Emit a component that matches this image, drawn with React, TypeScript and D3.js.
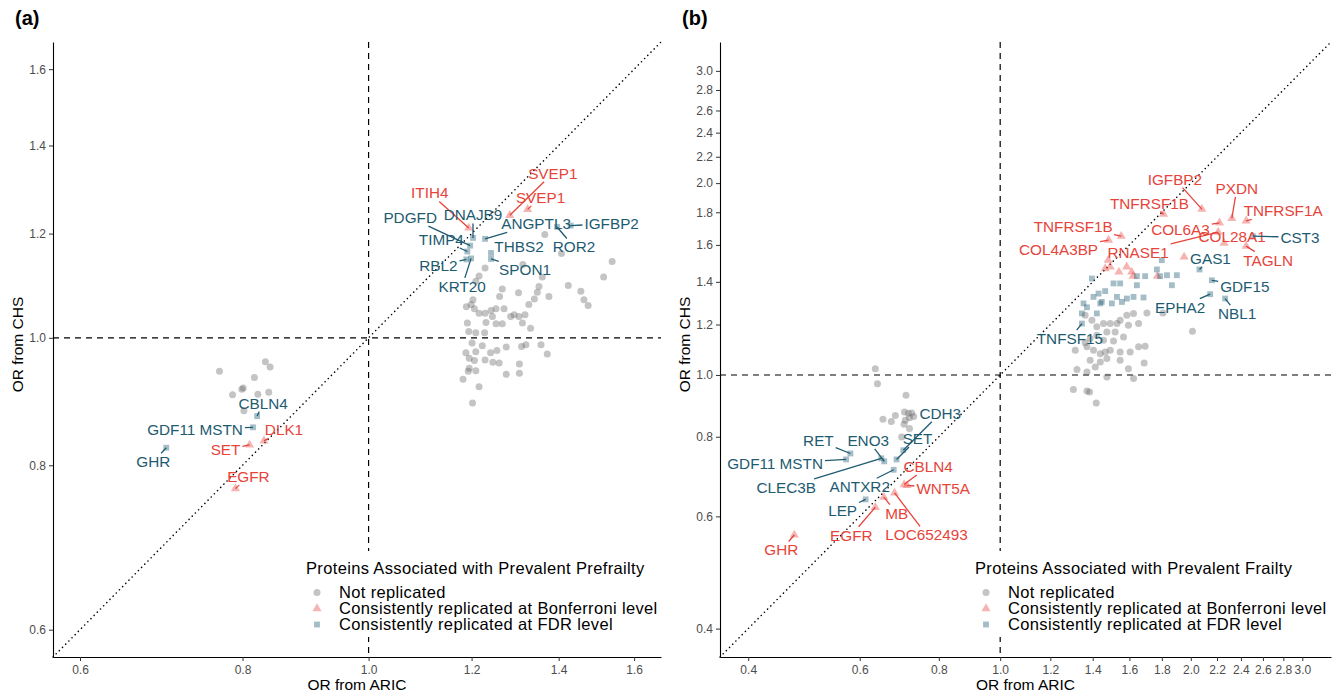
import React, { useEffect, useRef } from "react"
import * as d3 from "d3"

const FONT = "'Liberation Sans', Arial, Helvetica, sans-serif"
const RED = "#E6443B"
const TEAL = "#1E5B71"
const GREY = "#6b6b6b"

// ---------- panel (a): prevalent prefrailty ----------
const ticksA = [0.6, 0.8, 1.0, 1.2, 1.4, 1.6]

// [OR ARIC, OR CHS]
const notReplicatedA: [number, number][] = [
  [1.366, 1.198], [1.407, 1.159], [1.539, 1.143], [1.516, 1.112], [1.424, 1.096], [1.456, 1.085],
  [1.464, 1.069], [1.475, 1.058], [1.229, 1.13], [1.314, 1.137], [1.36, 1.112], [1.352, 1.094],
  [1.376, 1.075], [1.348, 1.083], [1.341, 1.07], [1.328, 1.06], [1.304, 1.082], [1.267, 1.089],
  [1.261, 1.075], [1.216, 1.114], [1.209, 1.104], [1.203, 1.069], [1.199, 1.06], [1.189, 1.056],
  [1.206, 1.052], [1.216, 1.044], [1.229, 1.044], [1.242, 1.049], [1.253, 1.052], [1.271, 1.052],
  [1.231, 1.027], [1.245, 1.038], [1.191, 1.026], [1.253, 1.025], [1.267, 1.025], [1.286, 1.038],
  [1.294, 1.041], [1.305, 1.038], [1.319, 1.041], [1.313, 1.026], [1.332, 1.017], [1.194, 1.011],
  [1.209, 1.009], [1.228, 1.009], [1.201, 0.991], [1.223, 0.986], [1.188, 0.974], [1.209, 0.976],
  [1.241, 0.974], [1.255, 0.978], [1.276, 0.984], [1.321, 0.988], [1.357, 0.988], [1.311, 0.985],
  [1.195, 0.965], [1.206, 0.961], [1.229, 0.962], [1.246, 0.958], [1.26, 0.957], [1.306, 0.955],
  [1.372, 0.972], [1.195, 0.948], [1.193, 0.943], [1.209, 0.944], [1.276, 0.938], [1.306, 0.94],
  [1.182, 0.93], [1.216, 0.918], [1.202, 0.892],
  [0.768, 0.943], [0.817, 0.933], [0.833, 0.959], [0.84, 0.95], [0.786, 0.905], [0.799, 0.914],
  [0.801, 0.916], [0.822, 0.906], [0.838, 0.909], [0.802, 0.88],
]

// [protein, OR ARIC, OR CHS]
const bonferroniA: [string, number, number][] = [
  ["ITIH4", 1.194, 1.212],
  ["SVEP1", 1.284, 1.239],
  ["SVEP1", 1.325, 1.252],
  ["DLK1", 0.831, 0.835],
  ["SET", 0.81, 0.829],
  ["EGFR", 0.79, 0.768],
]

const fdrA: [string, number, number][] = [
  ["PDGFD", 1.197, 1.175],
  ["DNAJB9", 1.203, 1.191],
  ["ANGPTL3", 1.229, 1.189],
  ["IGFBP2", 1.43, 1.217],
  ["ROR2", 1.396, 1.214],
  ["TIMP4", 1.191, 1.163],
  ["THBS2", 1.242, 1.16],
  ["RBL2", 1.189, 1.147],
  ["SPON1", 1.242, 1.148],
  ["KRT20", 1.199, 1.149],
  ["CBLN4", 0.821, 0.872],
  ["GDF11 MSTN", 0.815, 0.855],
  ["GHR", 0.699, 0.825],
]

// ---------- panel (b): prevalent frailty ----------
const ticksB = [0.4, 0.6, 0.8, 1.0, 1.2, 1.4, 1.6, 1.8, 2.0, 2.2, 2.4, 2.6, 2.8, 3.0]

const notReplicatedB: [number, number][] = [
  [2.012, 1.171], [1.705, 1.251], [1.807, 1.251], [1.624, 1.249], [1.585, 1.241], [1.547, 1.219],
  [1.529, 1.204], [1.594, 1.197], [1.654, 1.204], [1.492, 1.204], [1.456, 1.204], [1.421, 1.19],
  [1.396, 1.219], [1.474, 1.168], [1.519, 1.168], [1.566, 1.147], [1.421, 1.154], [1.387, 1.141],
  [1.362, 1.123], [1.314, 1.093], [1.371, 1.107], [1.404, 1.093], [1.439, 1.08], [1.465, 1.087],
  [1.492, 1.093], [1.547, 1.087], [1.604, 1.087], [1.654, 1.107], [1.694, 1.109], [1.387, 1.055],
  [1.439, 1.048], [1.474, 1.061], [1.547, 1.055], [1.594, 1.023], [1.688, 1.044], [1.322, 1.02],
  [1.371, 1.011], [1.413, 1.029], [1.474, 0.993], [1.624, 0.987], [1.305, 0.949], [1.371, 0.944],
  [1.384, 0.94], [1.418, 0.904], [1.456, 1.134], [1.51, 1.131], [1.362, 1.241],
  [0.635, 1.023], [0.64, 0.969], [0.71, 0.929], [0.653, 0.852], [0.673, 0.845], [0.683, 0.864],
  [0.706, 0.875], [0.716, 0.871], [0.725, 0.872], [0.708, 0.849], [0.719, 0.857], [0.73, 0.861],
  [0.719, 0.824], [0.699, 0.799], [0.705, 0.837],
]

const bonferroniB: [string, number, number][] = [
  ["IGFBP2", 2.082, 1.821],
  ["TNFRSF1B", 1.811, 1.788],
  ["COL6A3", 2.22, 1.733],
  ["PXDN", 2.322, 1.761],
  ["TNFRSF1A", 2.446, 1.745],
  ["TNFRSF1B", 1.553, 1.651],
  ["COL4A3BP", 1.483, 1.628],
  ["COL28A1", 2.258, 1.61],
  ["TAGLN", 2.446, 1.593],
  ["RNASE1", 2.209, 1.676],
  ["", 1.952, 1.532],
  ["", 1.481, 1.514],
  ["", 1.492, 1.478],
  ["", 1.54, 1.451],
  ["", 1.584, 1.478],
  ["", 1.613, 1.451],
  ["", 1.621, 1.429],
  ["", 1.771, 1.429],
  ["", 1.465, 1.469],
  ["CBLN4", 0.705, 0.673],
  ["WNT5A", 0.713, 0.671],
  ["MB", 0.655, 0.643],
  ["LOC652493", 0.681, 0.653],
  ["EGFR", 0.635, 0.62],
  ["GHR", 0.473, 0.561],
]

const fdrB: [string, number, number][] = [
  ["GAS1", 2.064, 1.464],
  ["GDF15", 2.159, 1.408],
  ["EPHA2", 2.146, 1.339],
  ["NBL1", 2.266, 1.318],
  ["CST3", 2.507, 1.651],
  ["TNFSF15", 1.346, 1.204],
  ["GDF11 MSTN", 0.571, 0.737],
  ["RET", 0.58, 0.753],
  ["ENO3", 0.656, 0.732],
  ["CLEC3B", 0.649, 0.74],
  ["SET", 0.686, 0.737],
  ["CDH3", 0.703, 0.762],
  ["ANTXR2", 0.679, 0.71],
  ["LEP", 0.613, 0.638],
  ["", 1.8, 1.514], ["", 1.768, 1.464], ["", 1.644, 1.429], ["", 1.694, 1.429], ["", 1.789, 1.429],
  ["", 1.834, 1.434], ["", 1.901, 1.434], ["", 1.867, 1.383], ["", 1.396, 1.417], ["", 1.51, 1.392],
  ["", 1.547, 1.392], ["", 1.644, 1.383], ["", 1.43, 1.342], ["", 1.404, 1.326], ["", 1.529, 1.326],
  ["", 1.585, 1.318], ["", 1.624, 1.326], ["", 1.684, 1.323], ["", 1.447, 1.302], ["", 1.439, 1.295],
  ["", 1.501, 1.295], ["", 1.557, 1.302], ["", 1.354, 1.295], ["", 1.346, 1.249], ["", 1.421, 1.249],
  ["", 1.371, 1.277], ["", 1.465, 1.354],
]

// repelled label placement: pixel offset of label centre from its point (same order as above)
type Nudge = [number, number] | null
const bonferroniA_nudge: Nudge[] = [[-39, -35], [43, -42], [13, -12], [20, -11], [-24, 5], [13, -12]]
const fdrA_nudge: Nudge[] = [
  [-60, -28], [0, -23], [51, -15], [41, -2], [17, 20], [-26, -12], [28, -6], [-28, 6], [34, 11],
  [-9, 28], [6, -13], [-58, 2], [-13, 14],
]
const bonferroniB_nudge: Nudge[] = [
  [-27, -30], [-14, -11], [-39, 7], [5, -30], [37, -10], [-48, -10], [-50, 9], [8, -7], [22, 14],
  [-80, 20], null, null, null, null, null, null, null, null, null,
  [24, -18], [36, 3], [13, 16], [32, 42], [-24, 28], [-13, 15],
]
const fdrB_nudge: Nudge[] = [
  [11, -11], [33, 6], [-30, 13], [12, 15], [47, 1], [-12, 15], [-71, 4], [-32, -13], [-16, -21],
  [-95, 29], [21, -21], [37, -37], [-34, 17], [-23, 11],
]

const legendItems = ["Not replicated", "Consistently replicated at Bonferroni level", "Consistently replicated at FDR level"]

let measureCtx: CanvasRenderingContext2D | null = null
function textWidth(s: string, size: number) {
  if (!measureCtx && typeof document !== "undefined") measureCtx = document.createElement("canvas").getContext("2d")
  if (!measureCtx) return s.length * size * 0.6
  measureCtx.font = `${size}px ${FONT}`
  return measureCtx.measureText(s).width
}

const triPath = d3.symbol().type(d3.symbolTriangle).size(36)()
const sqPath = d3.symbol().type(d3.symbolSquare).size(34)()

interface PanelProps {
  tag: string
  legendTitle: string
  domain: [number, number]
  ticks: number[]
  left: number
  right: number
  top: number
  bottom: number
  legendX: number
  grey: [number, number][]
  bonf: [string, number, number][]
  fdr: [string, number, number][]
  bonfNudge: Nudge[]
  fdrNudge: Nudge[]
}

const Panel: React.FC<PanelProps> = (p) => {
  const xAxisRef = useRef<SVGGElement>(null)
  const yAxisRef = useRef<SVGGElement>(null)

  const x = d3.scaleLog().domain(p.domain).range([p.left, p.right])
  const y = d3.scaleLog().domain(p.domain).range([p.bottom, p.top])

  useEffect(() => {
    const fmt = d3.format(".1f")
    const style = (g: any) => {
      g.attr("font-family", FONT).attr("font-size", 12)
      g.select(".domain").attr("stroke", "#000").attr("stroke-width", 1.1)
      g.selectAll(".tick line").attr("stroke", "#333").attr("stroke-width", 1)
      g.selectAll(".tick text").attr("fill", "#4d4d4d")
    }
    const gx = d3.select(xAxisRef.current)
    gx.call(d3.axisBottom(x).tickValues(p.ticks).tickFormat(fmt as any).tickSizeInner(4).tickSizeOuter(0).tickPadding(4) as any)
    style(gx)
    const gy = d3.select(yAxisRef.current)
    gy.call(d3.axisLeft(y).tickValues(p.ticks).tickFormat(fmt as any).tickSizeInner(4).tickSizeOuter(0).tickPadding(3) as any)
    style(gy)
  }, [])

  const labels: { name: string; px: number; py: number; nudge: [number, number]; color: string }[] = []
  p.bonf.forEach((d, i) => {
    const n = p.bonfNudge[i]
    if (d[0] && n) labels.push({ name: d[0], px: x(d[1]), py: y(d[2]), nudge: n, color: RED })
  })
  p.fdr.forEach((d, i) => {
    const n = p.fdrNudge[i]
    if (d[0] && n) labels.push({ name: d[0], px: x(d[1]), py: y(d[2]), nudge: n, color: TEAL })
  })

  const labelSize = 15.3
  const legendSize = 16.5
  const midY = (p.top + p.bottom) / 2 - 5

  return (
    <g>
      {/* reference lines */}
      <line x1={x(1)} x2={x(1)} y1={p.top} y2={p.bottom} stroke="#000" strokeWidth={1.2} strokeDasharray="6,5" />
      <line x1={p.left} x2={p.right} y1={y(1)} y2={y(1)} stroke="#000" strokeWidth={1.2} strokeDasharray="6,5" />
      <line x1={x(p.domain[0])} y1={y(p.domain[0])} x2={x(p.domain[1])} y2={y(p.domain[1])}
        stroke="#000" strokeWidth={1.5} strokeDasharray="0.1,4.4" strokeLinecap="round" />

      {/* points */}
      {p.grey.map((d, i) => (
        <circle key={"g" + i} cx={x(d[0])} cy={y(d[1])} r={3.5} fill={GREY} fillOpacity={0.4} />
      ))}
      {p.bonf.map((d, i) => (
        <path key={"b" + i} d={triPath} transform={`translate(${x(d[1])},${y(d[2])})`} fill={RED} fillOpacity={0.4} />
      ))}
      {p.fdr.map((d, i) => (
        <path key={"f" + i} d={sqPath} transform={`translate(${x(d[1])},${y(d[2])})`} fill={TEAL} fillOpacity={0.4} />
      ))}

      {/* repelled labels */}
      {labels.map((l, i) => {
        const cx = l.px + l.nudge[0]
        const cy = l.py + l.nudge[1]
        const hw = textWidth(l.name, labelSize) / 2 + 2
        const hh = 8.5
        const dx = l.px - cx
        const dy = l.py - cy
        let seg = null
        if (Math.abs(dx) > hw || Math.abs(dy) > hh) {
          const t = Math.min(dx !== 0 ? hw / Math.abs(dx) : Infinity, dy !== 0 ? hh / Math.abs(dy) : Infinity)
          const sx = cx + t * dx
          const sy = cy + t * dy
          if (Math.hypot(l.px - sx, l.py - sy) > 3)
            seg = <line x1={sx} y1={sy} x2={l.px} y2={l.py} stroke={l.color} strokeWidth={1.3} />
        }
        return (
          <g key={"l" + i}>
            {seg}
            <text x={cx} y={cy} dy="0.36em" textAnchor="middle" fill={l.color} fontSize={labelSize} fontFamily={FONT}>
              {l.name}
            </text>
          </g>
        )
      })}

      {/* axes */}
      <g ref={xAxisRef} transform={`translate(0,${p.bottom})`} />
      <g ref={yAxisRef} transform={`translate(${p.left},0)`} />

      {/* legend */}
      <rect x={p.legendX - 6} y={551} width={p.right - p.legendX + 4} height={86} fill="#fff" />
      <text x={p.legendX} y={574} fontSize={legendSize} letterSpacing={0.35} fontFamily={FONT} fill="#000">{p.legendTitle}</text>
      {legendItems.map((t, i) => {
        const ly = 592.5 + i * 16
        const kx = p.legendX + 11
        return (
          <g key={"lg" + i}>
            {i === 0 && <circle cx={kx} cy={ly} r={3.5} fill={GREY} fillOpacity={0.4} />}
            {i === 1 && <path d={triPath} transform={`translate(${kx},${ly})`} fill={RED} fillOpacity={0.4} />}
            {i === 2 && <path d={sqPath} transform={`translate(${kx},${ly})`} fill={TEAL} fillOpacity={0.4} />}
            <text x={p.legendX + 33} y={ly} dy="0.36em" fontSize={legendSize} letterSpacing={0.35} fontFamily={FONT} fill="#000">{t}</text>
          </g>
        )
      })}

      {/* titles */}
      <text x={(p.left + p.right) / 2} y={690} textAnchor="middle" fontSize={15.5} fontFamily={FONT} fill="#000">OR from ARIC</text>
      <text transform={`translate(${p.left - 30},${midY}) rotate(-90)`} textAnchor="middle" fontSize={15.5} fontFamily={FONT} fill="#000">OR from CHS</text>
      <text x={p.left - 38} y={25} fontSize={20} fontWeight="bold" fontFamily={FONT} fill="#000">{p.tag}</text>
    </g>
  )
}

export default function App() {
  useEffect(() => {
    document.body.style.margin = "0"
  }, [])

  return (
    <svg width={1336} height={696} style={{ position: "fixed", left: 0, top: 0, background: "#fff" }}>
      <rect x={0} y={0} width={1336} height={696} fill="#fff" />
      <Panel
        tag="(a)"
        legendTitle="Proteins Associated with Prevalent Prefrailty"
        domain={[0.572, 1.678]}
        ticks={ticksA}
        left={53}
        right={661}
        top={42}
        bottom={657}
        legendX={306}
        grey={notReplicatedA}
        bonf={bonferroniA}
        fdr={fdrA}
        bonfNudge={bonferroniA_nudge}
        fdrNudge={fdrA_nudge}
      />
      <Panel
        tag="(b)"
        legendTitle="Proteins Associated with Prevalent Frailty"
        domain={[0.361, 3.33]}
        ticks={ticksB}
        left={720}
        right={1331}
        top={42}
        bottom={657}
        legendX={975}
        grey={notReplicatedB}
        bonf={bonferroniB}
        fdr={fdrB}
        bonfNudge={bonferroniB_nudge}
        fdrNudge={fdrB_nudge}
      />
    </svg>
  )
}
